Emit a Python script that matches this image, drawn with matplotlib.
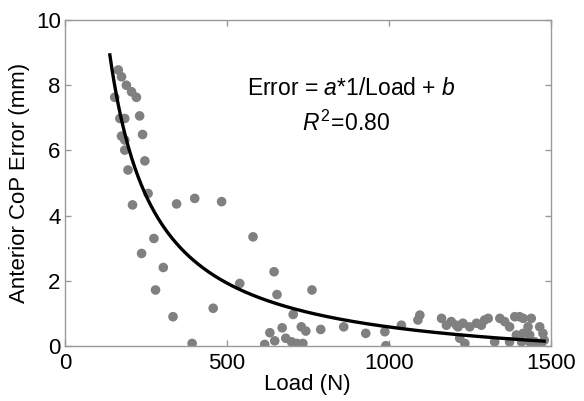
import numpy as np
import matplotlib
matplotlib.use("Agg")
import matplotlib.pyplot as plt

plt.rcParams['font.family'] = ['Liberation Sans', 'DejaVu Sans']
plt.rcParams['mathtext.fontset'] = 'custom'
plt.rcParams['mathtext.rm'] = 'Liberation Sans'
plt.rcParams['mathtext.it'] = 'Liberation Sans:italic'

# Scatter data (Load in N, Anterior CoP error in mm)
load = [165, 175, 190, 206, 221, 154, 231, 170, 185, 240, 175, 185, 185, 247, 195,
        257, 209, 345, 401, 484,
        581, 275, 237, 304, 646, 280, 540, 655, 763, 458, 334, 705,
        671, 730, 744, 790, 861, 633, 648, 617, 393, 682, 700, 717, 735,
        929, 988, 991, 1039, 1096, 1090,
        1163, 1178, 1193, 1209, 1214, 1229, 1250, 1271, 1286, 1296, 1307, 1343,
        1358, 1373, 1389, 1404, 1415, 1440, 1430, 1415, 1394, 1435, 1466, 1476,
        1219, 1235, 1327, 1373, 1451, 1471, 1435, 1410, 1480]
error = [8.47, 8.26, 8.00, 7.80, 7.63, 7.63, 7.06, 6.98, 6.98, 6.49, 6.44, 6.32, 6.01, 5.68, 5.40,
         4.68, 4.33, 4.36, 4.53, 4.43,
         3.35, 3.30, 2.84, 2.41, 2.28, 1.72, 1.92, 1.58, 1.72, 1.16, 0.90, 0.97,
         0.56, 0.59, 0.46, 0.51, 0.59, 0.41, 0.16, 0.05, 0.08, 0.24, 0.13, 0.08, 0.08,
         0.39, 0.44, 0.01, 0.64, 0.95, 0.80,
         0.85, 0.64, 0.75, 0.64, 0.59, 0.70, 0.59, 0.70, 0.64, 0.80, 0.85, 0.85,
         0.75, 0.59, 0.90, 0.90, 0.85, 0.85, 0.59, 0.39, 0.34, 0.34, 0.59, 0.39,
         0.24, 0.08, 0.13, 0.13, 0.13, 0.08, 0.13, 0.13, 0.18]

# Fitted curve: Error = a*1/Load + b
fit_a = 1347.0
fit_b = -0.76
fit_range = [139, 1480]

fig = plt.figure(figsize=(5.84, 4.01), dpi=100)
ax = fig.add_axes([0.111, 0.137, 0.832, 0.813])

ax.scatter(load, error, s=48, color='#808080', edgecolors='none', zorder=2)
xf = np.linspace(fit_range[0], fit_range[1], 400)
ax.plot(xf, fit_a / xf + fit_b, color='black', lw=2.4, zorder=3)

ax.set_xlim(0, 1500)
ax.set_ylim(0, 10)
ax.set_xticks([0, 500, 1000, 1500])
ax.set_yticks([0, 2, 4, 6, 8, 10])
ax.tick_params(direction='in', top=True, right=True, length=4, width=1,
               color='#9a9a9a', labelsize=16)
ax.tick_params(axis='x', pad=5)
ax.tick_params(axis='y', pad=3)
for s in ax.spines.values():
    s.set_color('#9a9a9a')
    s.set_linewidth(1)

ax.set_xlabel('Load (N)', fontsize=16, labelpad=0)
ax.set_ylabel('Anterior CoP Error (mm)', fontsize=16, labelpad=4)

ax.text(0.59, 0.791, r'Error = $a$*1/Load + $b$', transform=ax.transAxes,
        ha='center', va='center', fontsize=16.5)
ax.text(0.488, 0.684, r'$R^{2}\!=\!$0.80', transform=ax.transAxes,
        ha='left', va='center', fontsize=16.5)

fig.savefig('out.png', dpi=100)
